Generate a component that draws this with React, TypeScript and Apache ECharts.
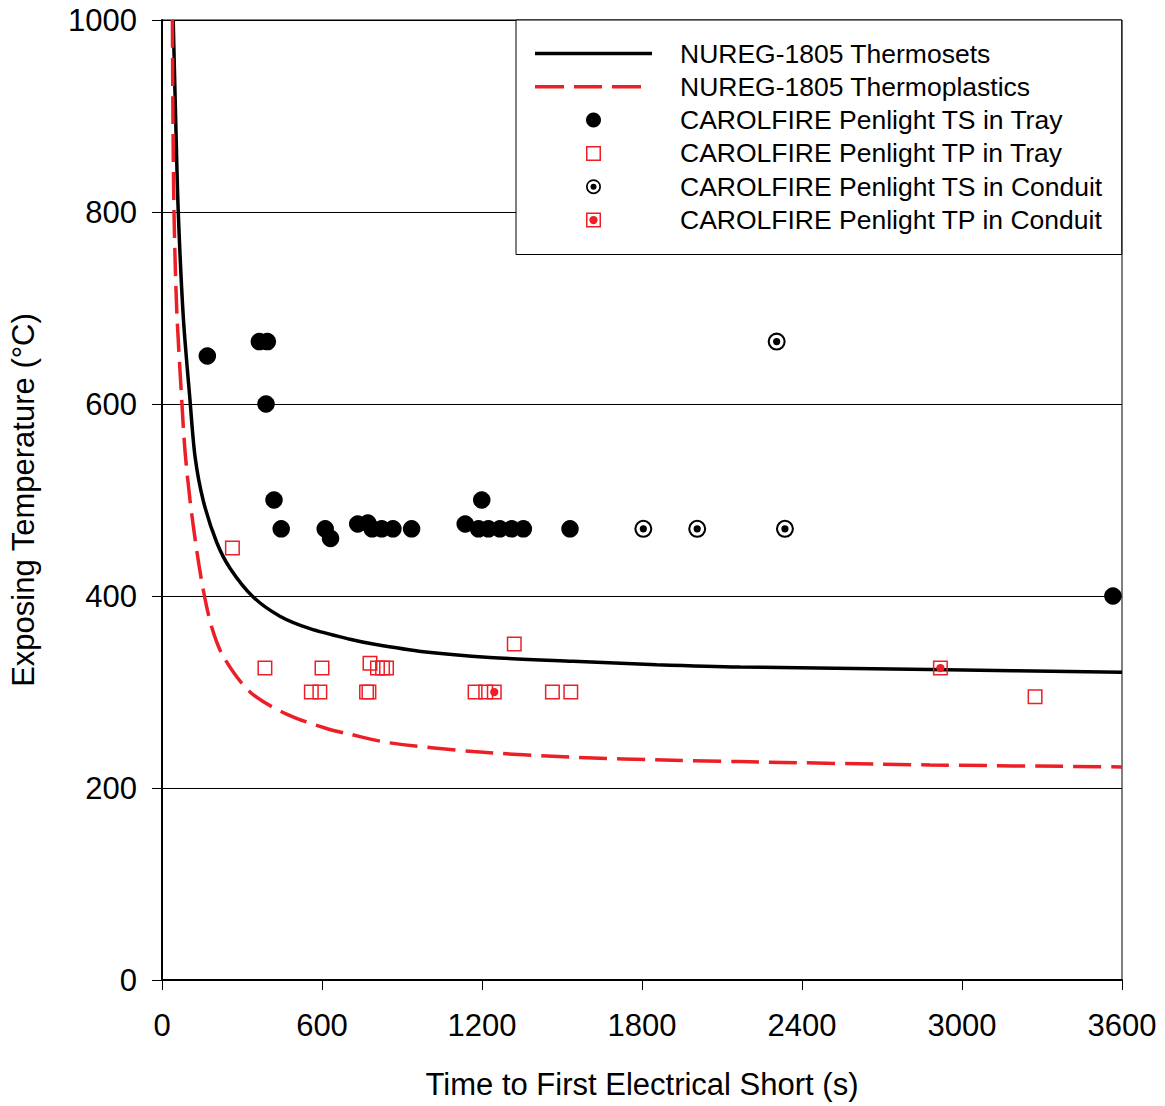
import React, { useEffect, useRef } from "react";
import * as echarts from "echarts";

// NUREG-1805 curves
const TS_CURVE_T = [42, 51, 61, 80, 105, 124, 155, 205, 255, 342, 442, 555, 705, 792, 980, 1230, 1542, 1855, 2167, 2880, 3600];
const TS_CURVE_V = [1000, 900, 800, 690, 604, 545, 499, 456, 429, 399, 379, 366, 355, 350, 342, 336, 332, 328.5, 326, 323.5, 320.5];
const TP_CURVE_T = [39, 41, 45, 55, 74, 86, 105, 130, 155, 186, 230, 330, 467, 617, 705, 855, 1167, 1542, 1917, 2167, 2880, 3600];
const TP_CURVE_V = [1000, 900, 800, 700, 604, 552, 500, 448, 406, 368, 337, 300, 277, 262, 256, 247, 238, 232, 229, 227.5, 224, 222];

// CAROLFIRE Penlight data
const TS_TRAY_T = [170, 365, 395, 390, 420, 447, 612, 632, 734, 772, 788, 824, 866, 936, 1137, 1199, 1187, 1224, 1267, 1311, 1355, 1530, 3566];
const TS_TRAY_V = [650, 665, 665, 600, 500, 470, 470, 460, 475, 476, 470, 470, 470, 470, 475, 500, 470, 470, 470, 470, 470, 470, 400];
const TP_TRAY_T = [264, 386, 600, 780, 808, 827, 842, 560, 592, 767, 776, 1174, 1214, 1321, 1464, 1533, 3274];
const TP_TRAY_V = [450, 325, 325, 330, 325, 325, 325, 300, 300, 300, 300, 300, 300, 350, 300, 300, 295];
const TS_CONDUIT_T = [1805, 2007, 2305, 2336];
const TS_CONDUIT_V = [470, 470, 665, 470];
const TP_CONDUIT_T = [1246, 2919];
const TP_CONDUIT_V = [300, 325];

const X_TICKS = [0, 600, 1200, 1800, 2400, 3000, 3600];
const Y_TICKS = [0, 200, 400, 600, 800, 1000];

const SERIES_NAMES = [
  "NUREG-1805 Thermosets",
  "NUREG-1805 Thermoplastics",
  "CAROLFIRE Penlight TS in Tray",
  "CAROLFIRE Penlight TP in Tray",
  "CAROLFIRE Penlight TS in Conduit",
  "CAROLFIRE Penlight TP in Conduit",
];

const RED = "#ec1f27";
const FONT = "'Liberation Sans', Arial, sans-serif";

const RING_DOT =
  "path://M0,-10A10,10,0,1,1,0,10A10,10,0,1,1,0,-10ZM0,-7.7A7.7,7.7,0,1,0,0,7.7A7.7,7.7,0,1,0,0,-7.7ZM0,-4A4,4,0,1,1,0,4A4,4,0,1,1,0,-4Z";
const SQUARE_OPEN = "path://M-10,-10H10V10H-10ZM-8,-8V8H8V-8Z";
const SQUARE_DOT =
  "path://M-10,-10H10V10H-10ZM-8,-8V8H8V-8ZM0,-5.5A5.5,5.5,0,1,1,0,5.5A5.5,5.5,0,1,1,0,-5.5Z";
const LEGEND_SOLID = "path://M0,-1.75H117V1.75H0Z";
const LEGEND_DASH =
  "path://M0,-1.75H29V1.75H0ZM39,-1.75H67V1.75H39ZM77,-1.75H106V1.75H77ZM117,-1.75L117,1.75L117,-1.75Z";

const pair = (t: number[], v: number[]) => t.map((x, i) => [x, v[i]]);

export default function App() {
  const ref = useRef<HTMLDivElement>(null);
  useEffect(() => {
    const chart = echarts.init(ref.current as HTMLDivElement, null, { renderer: "svg" });
    const option: any = {
      animation: false,
      backgroundColor: "#fff",
      textStyle: { fontFamily: FONT, color: "#000" },
      grid: {
        left: 162,
        right: 43,
        top: 20,
        bottom: 126,
        show: true,
        borderColor: "#000",
        borderWidth: 1,
        backgroundColor: "transparent",
      },
      xAxis: {
        type: "value",
        min: X_TICKS[0],
        max: X_TICKS[X_TICKS.length - 1],
        interval: 600,
        name: "Time to First Electrical Short (s)",
        nameLocation: "middle",
        nameGap: 89,
        nameTextStyle: { fontSize: 31, fontFamily: FONT, color: "#000" },
        axisLine: { show: true, onZero: false, lineStyle: { color: "#000", width: 2 } },
        axisTick: { show: true, inside: false, length: 10, lineStyle: { color: "#000", width: 1 } },
        axisLabel: {
          fontSize: 31,
          fontFamily: FONT,
          color: "#000",
          margin: 30,
          formatter: (v: number) => String(v),
        },
        splitLine: { show: false },
      },
      yAxis: {
        type: "value",
        min: Y_TICKS[0],
        max: Y_TICKS[Y_TICKS.length - 1],
        interval: 200,
        name: "Exposing Temperature (°C)",
        nameLocation: "middle",
        nameRotate: 90,
        nameGap: 123,
        nameTextStyle: { fontSize: 31, fontFamily: FONT, color: "#000" },
        axisLine: { show: true, onZero: false, lineStyle: { color: "#000", width: 2 } },
        axisTick: { show: true, inside: false, length: 10, lineStyle: { color: "#000", width: 1 } },
        axisLabel: {
          fontSize: 31,
          fontFamily: FONT,
          color: "#000",
          margin: 25,
          formatter: (v: number) => String(v),
        },
        splitLine: { show: true, lineStyle: { color: "#000", width: 1 } },
      },
      legend: {
        left: 516,
        top: 20,
        orient: "vertical",
        backgroundColor: "#fff",
        borderColor: "#000",
        borderWidth: 1,
        borderRadius: 0,
        padding: [20, 19, 21, 19],
        itemWidth: 117,
        itemHeight: 15,
        itemGap: 6.3,
        textStyle: {
          fontSize: 26.5,
          fontFamily: FONT,
          color: "#000",
          lineHeight: 26,
          padding: [0, 0, 0, 23],
        },
        data: [
          { name: SERIES_NAMES[0], icon: LEGEND_SOLID },
          { name: SERIES_NAMES[1], icon: LEGEND_DASH },
          { name: SERIES_NAMES[2] },
          { name: SERIES_NAMES[3] },
          { name: SERIES_NAMES[4] },
          { name: SERIES_NAMES[5] },
        ],
      },
      series: [
        {
          name: SERIES_NAMES[0],
          type: "line",
          data: pair(TS_CURVE_T, TS_CURVE_V),
          smooth: 0.3,
          symbol: "none",
          showSymbol: false,
          clip: true,
          lineStyle: { color: "#000", width: 3.5 },
          itemStyle: { color: "#000" },
          z: 2,
        },
        {
          name: SERIES_NAMES[1],
          type: "line",
          data: pair(TP_CURVE_T, TP_CURVE_V),
          smooth: 0.3,
          symbol: "none",
          showSymbol: false,
          clip: true,
          lineStyle: { color: RED, width: 3.5, type: [28, 10] },
          itemStyle: { color: RED },
          z: 2,
        },
        {
          name: SERIES_NAMES[2],
          type: "scatter",
          data: pair(TS_TRAY_T, TS_TRAY_V),
          symbol: "circle",
          symbolSize: 17.5,
          itemStyle: { color: "#000", opacity: 1 },
          z: 3,
        },
        {
          name: SERIES_NAMES[3],
          type: "scatter",
          data: pair(TP_TRAY_T, TP_TRAY_V),
          symbol: SQUARE_OPEN,
          symbolSize: 15,
          itemStyle: { color: RED, opacity: 1 },
          z: 3,
        },
        {
          name: SERIES_NAMES[4],
          type: "scatter",
          data: pair(TS_CONDUIT_T, TS_CONDUIT_V),
          symbol: RING_DOT,
          symbolSize: 18,
          itemStyle: { color: "#000", opacity: 1 },
          z: 3,
        },
        {
          name: SERIES_NAMES[5],
          type: "scatter",
          data: pair(TP_CONDUIT_T, TP_CONDUIT_V),
          symbol: SQUARE_DOT,
          symbolSize: 15,
          itemStyle: { color: RED, opacity: 1 },
          z: 3,
        },
      ],
    };
    chart.setOption(option);
    return () => chart.dispose();
  }, []);
  return (
    <div
      ref={ref}
      style={{ position: "absolute", left: 0, top: 0, width: 1165, height: 1106 }}
    />
  );
}
